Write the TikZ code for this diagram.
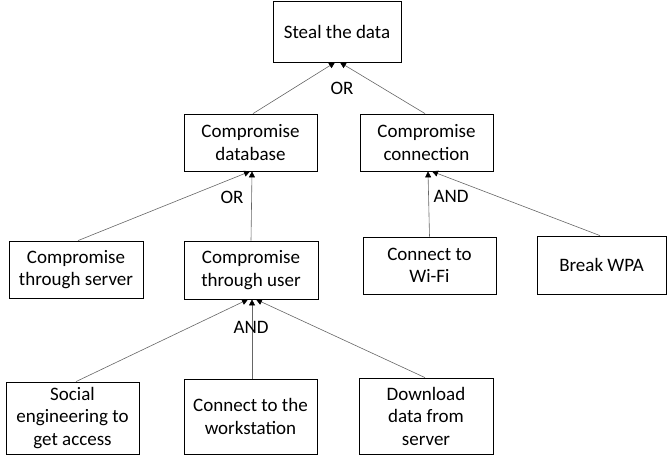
\documentclass[tikz,border=0pt]{standalone}
\usepackage{fontspec}
\setmainfont{Carlito}
\usetikzlibrary{arrows.meta}
\begin{document}
\begin{tikzpicture}[x=1pt,y=-1pt,
  box/.style={draw=black,line width=0.8pt,rectangle,align=center,inner sep=0pt,
    font=\fontsize{19}{22.5}\selectfont},
  conn/.style={draw=black!60,line width=0.6pt,-{Triangle[length=6pt,width=6pt,fill=black,color=black]}},
  gate/.style={font=\fontsize{19}{22.5}\selectfont}]
\useasboundingbox (0,0) rectangle (667,455);
% boxes: centre, width, height
\node[box,minimum width=128pt,minimum height=61pt] (steal) at (337,31.5) {Steal the data};
\node[box,minimum width=133pt,minimum height=57pt] (db) at (250.5,142.5) {Compromise\\database};
\node[box,minimum width=133pt,minimum height=57pt] (cn) at (426.5,142.5) {Compromise\\connection};
\node[box,minimum width=134pt,minimum height=57pt] (srv) at (76,269.5) {Compromise\\through server};
\node[box,minimum width=134pt,minimum height=58pt] (usr) at (251,270) {Compromise\\through user};
\node[box,minimum width=133pt,minimum height=57pt] (wifi) at (429.5,265.5) {Connect to\\Wi-Fi};
\node[box,minimum width=129pt,minimum height=58pt] (wpa) at (601.5,265) {Break WPA};
\node[box,minimum width=133pt,minimum height=72pt] (soc) at (72.5,418) {Social\\engineering to\\get access};
\node[box,minimum width=133pt,minimum height=75pt] (ws) at (250.5,416.5) {Connect to the\\workstation};
\node[box,minimum width=134pt,minimum height=76pt] (dl) at (426,416) {Download\\data from\\server};
% connectors
\draw[conn] ([xshift=2.5pt]db.north) -- ([xshift=-2pt]steal.south);
\draw[conn] ([xshift=-1.5pt]cn.north) -- ([xshift=3pt]steal.south);
\draw[conn] ([xshift=2pt]srv.north) -- ([xshift=-0.5pt]db.south);
\draw[conn] (usr.north) -- ([xshift=1.5pt]db.south);
\draw[conn] (wifi.north) -- ([xshift=1.5pt]cn.south);
\draw[conn] ([xshift=-1.5pt]wpa.north) -- ([xshift=5.5pt]cn.south);
\draw[conn] ([xshift=3.5pt]soc.north) -- ([xshift=-3pt]usr.south);
\draw[conn] ([xshift=1.5pt]ws.north) -- ([xshift=1pt]usr.south);
\draw[conn] ([xshift=-1pt]dl.north) -- ([xshift=5pt]usr.south);
% gate labels
\node[gate] (g1) at (342,88) {OR};
\node[gate] (g2) at (232,197) {OR};
\node[gate] (g3) at (451,196) {AND};
\node[gate] (g4) at (251,327) {AND};
\end{tikzpicture}
\end{document}
